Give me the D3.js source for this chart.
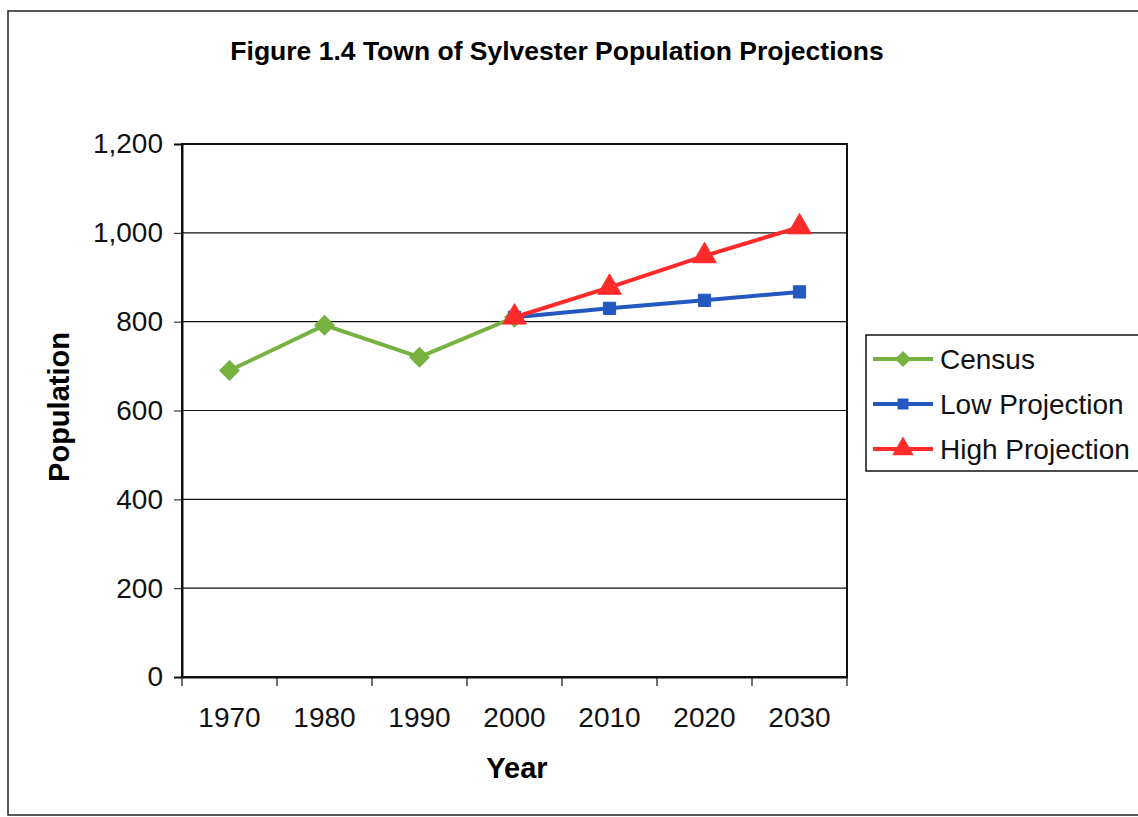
<!DOCTYPE html>
<html><head><meta charset="utf-8">
<script src="https://cdn.jsdelivr.net/npm/d3@7"></script>
<style>
html,body{margin:0;padding:0;background:#fff;}
text{font-family:Arial,"Liberation Sans",sans-serif;}
</style></head>
<body>
<svg id="chart" width="1138" height="817"></svg>
<script>
const years = ["1970","1980","1990","2000","2010","2020","2030"];
const census = [690, 792, 720, 810, null, null, null];
const lowProjection = [null, null, null, 810, 830, 848, 867];
const highProjection = [null, null, null, 810, 877, 948, 1013];
const yTicks = [0, 200, 400, 600, 800, 1000, 1200];
const seriesNames = ["Census", "Low Projection", "High Projection"];
const seriesColors = ["#77b140", "#2458c0", "#ff2a2a"];
const seriesShapes = [d3.symbolSquare, d3.symbolSquare, d3.symbolTriangle];
const seriesRotate = [45, 0, 0];
const seriesData = [census, lowProjection, highProjection];

const svg = d3.select("#chart");
svg.append("rect").attr("x",8).attr("y",11).attr("width",1140).attr("height",804)
  .attr("fill","none").attr("stroke","#222").attr("stroke-width",1.5);

svg.append("text").attr("x",557).attr("y",60).attr("text-anchor","middle")
  .attr("font-size",26.5).attr("font-weight","bold").text("Figure 1.4 Town of Sylvester Population Projections");

const m = {left:182, right:847, top:144, bottom:677};
const x = d3.scaleBand().domain(years).range([m.left, m.right]);
const y = d3.scaleLinear().domain([0,1200]).range([m.bottom, m.top]);

svg.append("g").selectAll("line").data(yTicks.slice(1)).join("line")
  .attr("x1",m.left).attr("x2",m.right).attr("y1",d=>y(d)).attr("y2",d=>y(d))
  .attr("stroke","#111").attr("stroke-width",1.2);

svg.append("rect").attr("x",m.left).attr("y",m.top).attr("width",m.right-m.left).attr("height",m.bottom-m.top)
  .attr("fill","none").attr("stroke","#111").attr("stroke-width",2);

const yAxis = svg.append("g").attr("transform",`translate(${m.left},0)`)
  .call(d3.axisLeft(y).tickValues(yTicks).tickSize(8).tickPadding(11).tickFormat(d3.format(",")));
yAxis.select(".domain").attr("stroke","#111").attr("stroke-width",2);
yAxis.selectAll(".tick line").attr("stroke","#111");
yAxis.selectAll("text").attr("font-size",28).attr("fill","#111").attr("font-family","Arial, 'Liberation Sans', sans-serif");

const xAxis = svg.append("g").attr("transform",`translate(0,${m.bottom})`)
  .call(d3.axisBottom(x).tickSize(0).tickPadding(30));
xAxis.select(".domain").attr("stroke","#111").attr("stroke-width",2);
xAxis.selectAll("text").attr("font-size",28).attr("fill","#111").attr("font-family","Arial, 'Liberation Sans', sans-serif");
const bounds = years.map(d=>x(d)).concat([x(years[years.length-1])+x.bandwidth()]);
svg.append("g").selectAll("line").data(bounds).join("line")
  .attr("x1",d=>d).attr("x2",d=>d).attr("y1",m.bottom).attr("y2",m.bottom+9)
  .attr("stroke","#111").attr("stroke-width",1.2);

svg.append("text").attr("transform","translate(69,407) rotate(-90)").attr("text-anchor","middle")
  .attr("font-size",29).attr("font-weight","bold").text("Population");
svg.append("text").attr("x",517).attr("y",778).attr("text-anchor","middle")
  .attr("font-size",29).attr("font-weight","bold").text("Year");

const cx = d => x(d) + x.bandwidth()/2;
const line = d3.line().defined(d=>d.v!=null).x(d=>cx(d.year)).y(d=>y(d.v));

seriesData.forEach((arr,i)=>{
  const pts = years.map((yr,j)=>({year:yr, v:arr[j]}));
  svg.append("path").datum(pts).attr("d",line).attr("fill","none")
    .attr("stroke",seriesColors[i]).attr("stroke-width",4);
  const sz = i===2 ? 240 : (i===1 ? 150 : 190);
  svg.append("g").selectAll("path").data(pts.filter(d=>d.v!=null)).join("path")
    .attr("transform",d=>`translate(${cx(d.year)},${y(d.v)}) rotate(${seriesRotate[i]})`)
    .attr("d",d3.symbol().type(seriesShapes[i]).size(sz))
    .attr("fill",seriesColors[i]).attr("stroke",seriesColors[i]).attr("stroke-width",1);
});

const lg = svg.append("g");
lg.append("rect").attr("x",866).attr("y",335).attr("width",290).attr("height",136)
  .attr("fill","#fff").attr("stroke","#111").attr("stroke-width",1.5);
seriesNames.forEach((n,i)=>{
  const ly = 359 + i*45;
  lg.append("line").attr("x1",873).attr("x2",933).attr("y1",ly).attr("y2",ly)
    .attr("stroke",seriesColors[i]).attr("stroke-width",4);
  lg.append("path").attr("transform",`translate(903,${ly}) rotate(${seriesRotate[i]})`)
    .attr("d",d3.symbol().type(seriesShapes[i]).size(i===2?200:(i===1?120:130)))
    .attr("fill",seriesColors[i]);
  lg.append("text").attr("x",940).attr("y",ly+10).attr("font-size",28).attr("fill","#111").text(n);
});
</script>
</body></html>
